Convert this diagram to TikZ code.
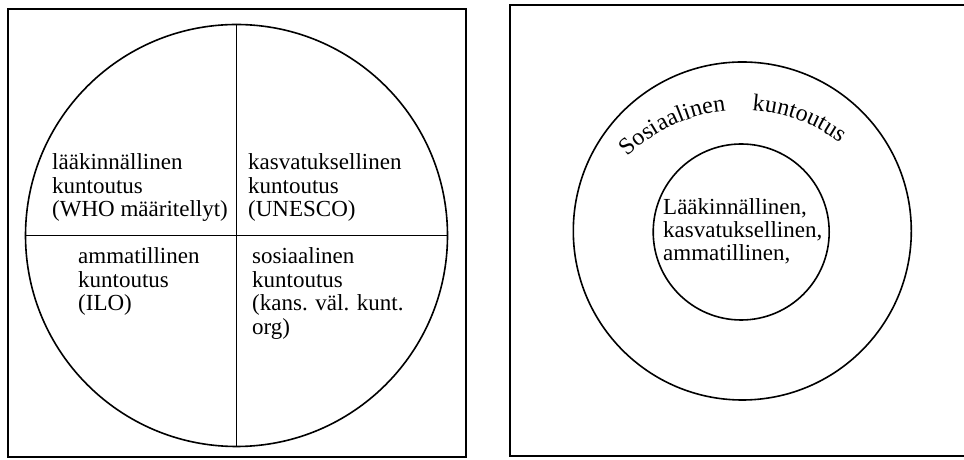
\documentclass[tikz,border=0pt]{standalone}
\usepackage{fontspec}
\setmainfont{Liberation Serif}
\usetikzlibrary{decorations.text}
\begin{document}
\begin{tikzpicture}[x=1pt,y=1pt,
  frame/.style={line width=2.2pt},
  ring/.style={draw, circle, inner sep=0pt, line width=1.6pt},
  diam/.style={line width=1.6pt},
  lbl/.style={anchor=base west, inner sep=0pt, font=\fontsize{23}{23.5}\selectfont},
  lblin/.style={anchor=base west, inner sep=0pt, font=\fontsize{23}{22}\selectfont}]
\useasboundingbox (0,0) rectangle (964,460);
% left panel
\draw[frame] (8,3) rectangle (466,451);
\node[ring, minimum size=422pt] (circ) at (236.5,224.5) {};
\draw[diam] (circ.north) -- (circ.south);
\draw[diam] (circ.west) -- (circ.east);
\node[lbl] (tl) at (52,290) {\begin{tabular}[t]{@{}l@{}}lääkinnällinen\\kuntoutus\\(WHO määritellyt)\end{tabular}};
\node[lbl] (tr) at (248,290) {\begin{tabular}[t]{@{}l@{}}kasvatuksellinen\\kuntoutus\\(UNESCO)\end{tabular}};
\node[lbl] (bl) at (78,196) {\begin{tabular}[t]{@{}l@{}}ammatillinen\\kuntoutus\\(ILO)\end{tabular}};
\node[lbl] (br) at (252,196) {\begin{tabular}[t]{@{}l@{}}sosiaalinen\\kuntoutus\\(kans. väl. kunt.\\org)\end{tabular}};
% right panel
\draw[frame] (966,455) -- (510,455) -- (510,4) -- (966,4);
\node[ring, minimum size=338pt] (outer) at (742.3,229) {};
\node[ring, minimum size=176pt] (inner) at (741.2,228) {};
\coordinate (arcc) at (742,188);
\path[decorate, decoration={text along path, text align={fit to path},
  text={|\fontsize{24}{26}\selectfont|Sosiaalinen}}]
  (arcc) ++(134.8:162) arc[start angle=134.8, end angle=96.2, radius=162];
\path[decorate, decoration={text along path, text align={fit to path},
  text={|\fontsize{24}{26}\selectfont|kuntoutus}}]
  (arcc) ++(86.4:162) arc[start angle=86.4, end angle=52.8, radius=162];
\node[lblin] (intext) at (663,245) {\begin{tabular}[t]{@{}l@{}}Lääkinnällinen,\\kasvatuksellinen,\\ammatillinen,\end{tabular}};
\end{tikzpicture}
\end{document}
